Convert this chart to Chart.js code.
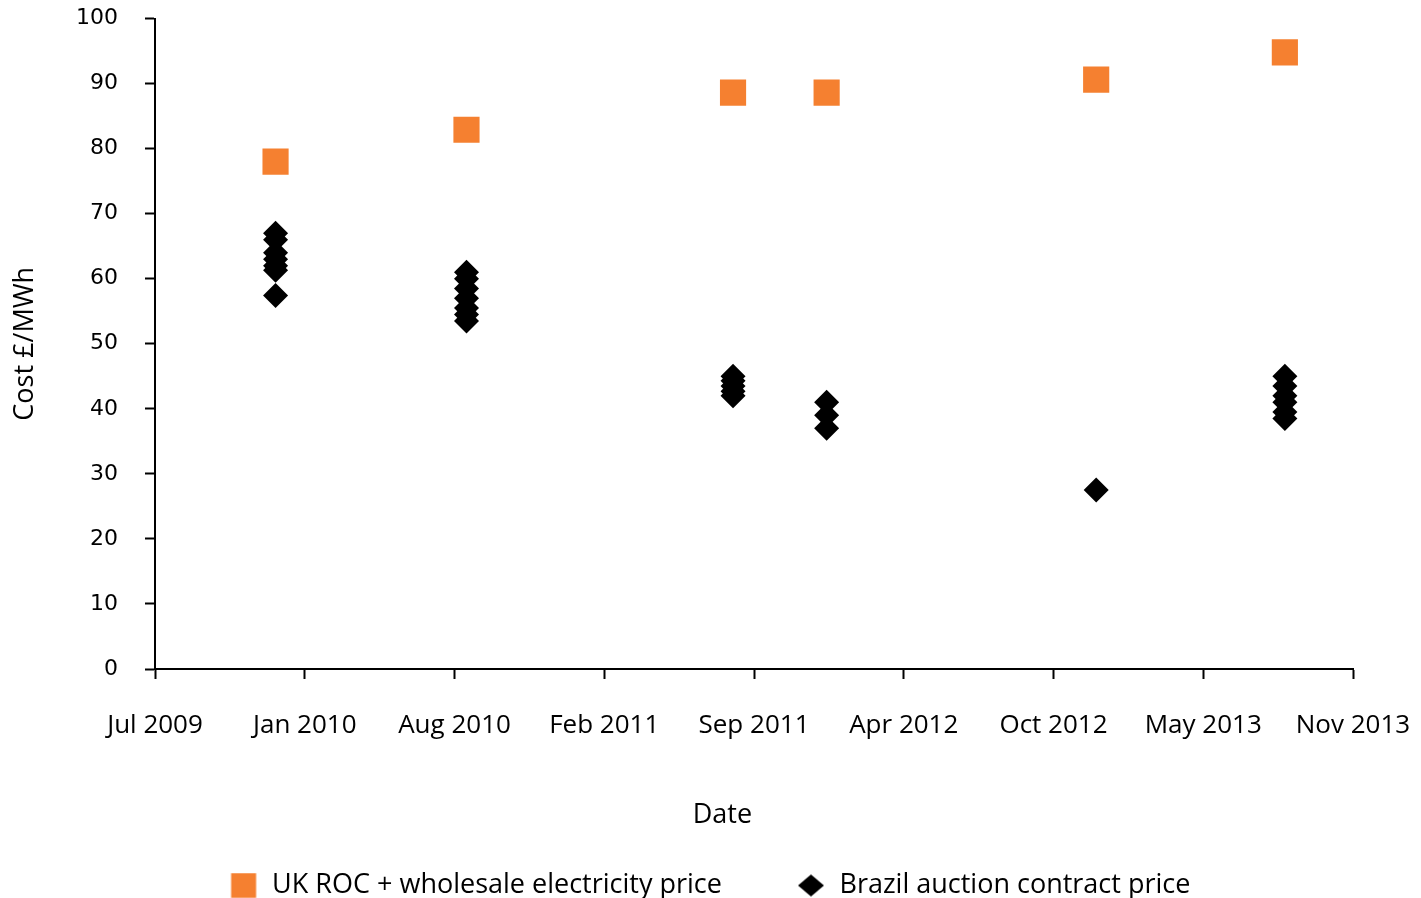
<!DOCTYPE html>
<html>
<head>
    <title></title>
    <script src="https://cdn.jsdelivr.net/npm/chart.js"></script>
    <style>
        html, body { margin: 0; padding: 0; background: #fff; }
        .chart-container { width: 1421px; height: 898px; }
    </style>
</head>
<body>
    <div class="chart-container">
        <canvas id="auctionChart"></canvas>
    </div>

    <script>
        // auction dates (one per round), values in £/MWh
        const auctionDates = ['2009-12-14', '2010-08-26', '2011-08-17', '2011-12-20', '2012-12-14', '2013-08-23'];
        const ukPrice = [78.0, 82.9, 88.6, 88.6, 90.6, 94.8];
        const brazilPrices = [
            [67.0, 66.0, 64.0, 63.0, 62.0, 61.3, 57.4],
            [61.0, 60.0, 58.5, 57.0, 55.5, 54.5, 53.5],
            [45.0, 44.3, 43.5, 42.7, 42.0],
            [41.0, 39.0, 37.0],
            [27.5],
            [45.0, 43.5, 42.0, 41.0, 39.5, 38.5]
        ];
        const axisStart = '2009-07-06';
        const axisEnd = '2013-11-22';
        const tickStepDays = 200;
        const monthNames = ['Jan', 'Feb', 'Mar', 'Apr', 'May', 'Jun', 'Jul', 'Aug', 'Sep', 'Oct', 'Nov', 'Dec'];

        const orange = 'rgb(245,128,48)';

        function dayNum(s) {
            const p = s.split('-').map(Number);
            return Date.UTC(p[0], p[1] - 1, p[2]) / 86400000;
        }
        function dayLabel(v) {
            const d = new Date(v * 86400000);
            return monthNames[d.getUTCMonth()] + ' ' + d.getUTCFullYear();
        }

        const ukPoints = auctionDates.map((d, i) => ({ x: dayNum(d), y: ukPrice[i] }));
        const brazilPoints = [];
        auctionDates.forEach((d, i) => {
            brazilPrices[i].forEach(v => brazilPoints.push({ x: dayNum(d), y: v }));
        });

        // legend markers: marker sits at the right end of a wide transparent box,
        // which gives the wide gap between the two legend entries
        const iconW = 84;
        function legendIcon(kind) {
            const c = document.createElement('canvas');
            c.width = iconW; c.height = 26;
            const g = c.getContext('2d');
            const x0 = iconW - 28;
            if (kind === 'square') {
                g.fillStyle = orange;
                g.fillRect(x0 + 0.5, 0.5, 25, 25);
            } else {
                g.fillStyle = '#000';
                g.beginPath();
                g.moveTo(x0, 13); g.lineTo(x0 + 13, 2); g.lineTo(x0 + 26, 13); g.lineTo(x0 + 13, 24);
                g.closePath();
                g.fill();
            }
            return c;
        }
        const icons = [legendIcon('square'), legendIcon('diamond')];

        const ctx = document.getElementById('auctionChart').getContext('2d');
        const chart = new Chart(ctx, {
            type: 'scatter',
            data: {
                datasets: [
                    {
                        label: 'UK ROC + wholesale electricity price',
                        data: ukPoints,
                        pointStyle: 'rect',
                        pointRadius: 18.5,
                        pointHoverRadius: 18.5,
                        backgroundColor: orange,
                        borderColor: orange,
                        borderWidth: 0
                    },
                    {
                        label: 'Brazil auction contract price',
                        data: brazilPoints,
                        pointStyle: 'rectRot',
                        pointRadius: 12.5,
                        pointHoverRadius: 12.5,
                        backgroundColor: '#000',
                        borderColor: '#000',
                        borderWidth: 0
                    }
                ]
            },
            options: {
                responsive: true,
                maintainAspectRatio: false,
                animation: false,
                layout: { padding: { left: 12, right: 68, top: 18, bottom: -11 } },
                plugins: {
                    tooltip: { enabled: false },
                    legend: {
                        position: 'bottom',
                        labels: {
                            usePointStyle: true,
                            pointStyleWidth: iconW,
                            boxHeight: 26,
                            padding: 20,
                            color: '#000',
                            font: { family: 'Open Sans', size: 27 },
                            generateLabels: function (c) {
                                const items = Chart.defaults.plugins.legend.labels.generateLabels(c);
                                items.forEach((it, i) => { it.pointStyle = icons[i]; });
                                return items;
                            }
                        }
                    }
                },
                scales: {
                    x: {
                        type: 'linear',
                        min: dayNum(axisStart),
                        max: dayNum(axisEnd),
                        afterFit: function (s) {
                            s.height = 183;
                            s.paddingLeft = 0;
                            s.paddingRight = 0;
                        },
                        border: { display: true, color: '#000', width: 2 },
                        grid: { drawOnChartArea: false, drawTicks: true, tickLength: 10, tickColor: '#000', tickWidth: 2 },
                        ticks: {
                            stepSize: tickStepDays,
                            autoSkip: false,
                            maxRotation: 0,
                            padding: 31,
                            color: '#000',
                            font: { family: 'Open Sans', size: 26 },
                            callback: v => dayLabel(v)
                        },
                        title: {
                            display: true,
                            // trailing no-break spaces pull the centred title left, as in the original
                            text: 'Date\u00A0\u00A0\u00A0\u00A0\u00A0\u00A0\u00A0\u00A0\u00A0',
                            color: '#000',
                            font: { family: 'Open Sans', size: 27 },
                            padding: { top: 0, bottom: 20 }
                        }
                    },
                    y: {
                        min: 0,
                        max: 100,
                        afterFit: function (s) {
                            s.width = 143;
                            s.paddingTop = 0;
                            s.paddingBottom = 0;
                        },
                        border: { display: true, color: '#000', width: 2 },
                        grid: { drawOnChartArea: false, drawTicks: true, tickLength: 10, tickColor: '#000', tickWidth: 2 },
                        ticks: {
                            stepSize: 10,
                            padding: 27,
                            color: '#000',
                            font: { family: 'DejaVu Sans', size: 22 }
                        },
                        title: {
                            display: true,
                            text: 'Cost £/MWh',
                            color: '#000',
                            font: { family: 'Open Sans', size: 27 },
                            padding: { top: -3, bottom: 0 }
                        }
                    }
                }
            }
        });
    </script>
</body>
</html>
